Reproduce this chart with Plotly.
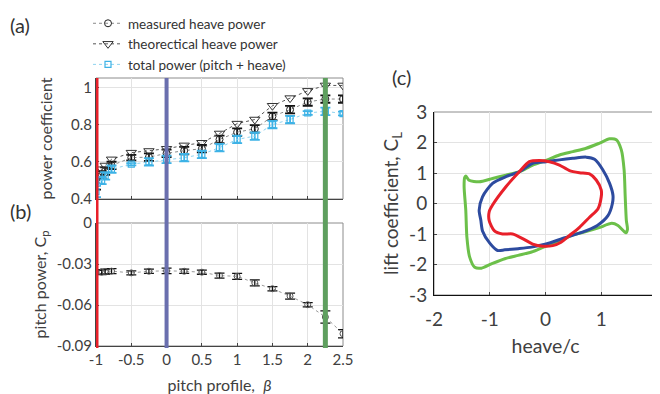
import plotly.graph_objects as go

# ---------------- data ----------------
beta = [-1, -0.92, -0.87, -0.78, -0.5, -0.25, 0, 0.25, 0.5, 0.75, 1.0, 1.25, 1.5, 1.75, 2.0, 2.25, 2.5]
measured = [0.48, 0.53, 0.55, 0.58, 0.622, 0.625, 0.645, 0.66, 0.67, 0.72, 0.759, 0.777, 0.844, 0.88, 0.921, 0.937, 0.937]
measured_err = [0.03, 0.02, 0.02, 0.02, 0.015, 0.02, 0.02, 0.02, 0.02, 0.02, 0.02, 0.02, 0.02, 0.02, 0.02, 0.02, 0.02]
theory = [0.50, 0.56, 0.58, 0.613, 0.649, 0.658, 0.670, 0.688, 0.702, 0.752, 0.805, 0.827, 0.901, 0.942, 0.981, 1.01, 1.01]
total = [0.44, 0.50, 0.524, 0.56, 0.587, 0.60, 0.613, 0.622, 0.64, 0.676, 0.72, 0.738, 0.80, 0.827, 0.862, 0.871, 0.859]
total_err = [0.03, 0.02, 0.02, 0.02, 0.006, 0.02, 0.02, 0.02, 0.02, 0.02, 0.02, 0.02, 0.02, 0.02, 0.01, 0.02, 0.01]
pitch = [-0.0361, -0.036, -0.0355, -0.0352, -0.0365, -0.0353, -0.035, -0.0353, -0.036, -0.0385, -0.039,
         -0.0438, -0.0481, -0.0535, -0.0598, -0.0688, -0.081]
pitch_err = [0.0015, 0.0018, 0.0018, 0.0018, 0.0015, 0.0015, 0.002, 0.0015, 0.0015, 0.0018, 0.0022,
             0.0022, 0.0015, 0.0022, 0.0015, 0.0045, 0.003]
beta_marks = [-1, 0, 2.25]
mark_colors = ["#e8202a", "#6a6fae", "#5f9f5f"]
mark_widths = [5, 4, 5]

red_h = [-0.11, 0.07, 0.25, 0.43, 0.61, 0.79, 0.91, 1.00, 1.00, 0.94, 0.79, 0.61, 0.43, 0.28, 0.13, -0.05,
         -0.23, -0.41, -0.59, -0.77, -0.92, -1.01, -1.01, -0.95, -0.71, -0.47, -0.29, -0.11]
red_cl = [1.41, 1.37, 1.26, 1.08, 1.01, 0.97, 0.77, 0.44, 0.22, -0.18, -0.45, -0.78, -1.05, -1.27, -1.38, -1.40,
          -1.33, -1.15, -1.00, -1.00, -0.89, -0.56, -0.27, -0.05, 0.55, 1.04, 1.37, 1.41]
blue_h = [0.01, 0.25, 0.49, 0.73, 0.88, 1.03, 1.15, 1.21, 1.20, 1.12, 0.93, 0.65, 0.35, 0.01, -0.25, -0.49,
          -0.73, -0.86, -1.00, -1.13, -1.16, -1.19, -1.13, -0.95, -0.71, -0.47, -0.23, 0.01]
blue_cl = [1.37, 1.43, 1.48, 1.52, 1.45, 1.10, 0.66, 0.27, 0.0, -0.40, -0.72, -0.95, -1.12, -1.33, -1.43, -1.48,
           -1.52, -1.54, -1.30, -0.90, -0.55, -0.22, 0.22, 0.66, 0.88, 1.04, 1.32, 1.37]
green_h = [-1.43, -1.37, -1.19, -0.95, -0.71, -0.47, -0.23, 0.01, 0.25, 0.49, 0.73, 0.97, 1.15, 1.27, 1.36,
           1.41, 1.43, 1.45, 1.47, 1.44, 1.30, 1.19, 0.95, 0.71, 0.47, 0.23, -0.01, -0.25, -0.49, -0.73,
           -0.97, -1.15, -1.27, -1.36, -1.41, -1.43, -1.46, -1.45, -1.43]
green_cl = [0.90, 0.76, 0.71, 0.82, 0.93, 1.04, 1.26, 1.41, 1.59, 1.70, 1.81, 1.98, 2.12, 2.09, 1.76,
            1.10, 0.22, -0.55, -0.85, -0.96, -0.72, -0.65, -0.80, -0.93, -1.04, -1.26, -1.41, -1.59, -1.70, -1.81,
            -1.98, -2.12, -2.09, -1.76, -1.10, -0.22, 0.55, 0.85, 0.90]

FONT = "Lato"
TXT = "#404040"

# the page body has an 8px default margin, so the figure is 652x386 placed at (8, 8)
W, H, OFF = 652, 386, 8


def px(x):
    return (x - OFF) / W


def py(y):
    return 1 - (y - OFF) / H


fig = go.Figure()

# panel (a)
fig.add_trace(go.Scatter(
    x=beta, y=measured, name="measured heave power", mode="lines+markers",
    line=dict(color="#8a8a8a", width=1, dash="dot"),
    marker=dict(symbol="circle-open", size=7, color="#222", line=dict(width=1)),
    error_y=dict(type="data", array=measured_err, color="#111", thickness=1.8, width=5),
    xaxis="x", yaxis="y"))
fig.add_trace(go.Scatter(
    x=beta, y=theory, name="theorectical heave power", mode="lines+markers",
    line=dict(color="#555", width=1, dash="dot"),
    marker=dict(symbol="triangle-down-open", size=9, color="#333", line=dict(width=1)),
    xaxis="x", yaxis="y"))
fig.add_trace(go.Scatter(
    x=beta, y=total, name="total power (pitch + heave)", mode="lines+markers",
    line=dict(color="#8ed3f0", width=1, dash="dot"),
    marker=dict(symbol="square-open", size=6, color="#3db2e6", line=dict(width=1.2)),
    error_y=dict(type="data", array=total_err, color="#3db2e6", thickness=1.8, width=5),
    xaxis="x", yaxis="y"))

# panel (b)
fig.add_trace(go.Scatter(
    x=beta, y=pitch, showlegend=False, mode="lines+markers",
    line=dict(color="#9a9a9a", width=1, dash="dot"),
    marker=dict(symbol="circle-open", size=6, color="#555", line=dict(width=1)),
    error_y=dict(type="data", array=pitch_err, color="#111", thickness=1.3, width=5),
    xaxis="x2", yaxis="y2"))

# panel (c)
for hx, cy, col in [(green_h, green_cl, "#6cc04a"), (blue_h, blue_cl, "#2d4b9f"), (red_h, red_cl, "#e8202a")]:
    fig.add_trace(go.Scatter(x=hx, y=cy, mode="lines", showlegend=False,
                             line=dict(color=col, width=3, shape="spline", smoothing=0.7),
                             xaxis="x3", yaxis="y3"))

shapes = []
for b, c, w in zip(beta_marks, mark_colors, mark_widths):
    shapes.append(dict(type="line", xref="x", yref="paper", x0=b, x1=b, y0=py(348), y1=py(78),
                       line=dict(color=c, width=w), layer="above"))
for xr, yr in [("x domain", "y domain"), ("x2 domain", "y2 domain"), ("x3 domain", "y3 domain")]:
    shapes.append(dict(type="rect", xref=xr, yref=yr, x0=0, x1=1, y0=0, y1=1,
                       line=dict(color="#8c8c8c", width=1), layer="below"))

axcommon = dict(showgrid=True, gridcolor="#e3e3e3", gridwidth=1, zeroline=False,
                ticks="inside", ticklen=3, tickcolor="#444", automargin=False,
                tickfont=dict(family=FONT, size=15, color=TXT), showline=True, linecolor="#444", linewidth=1)

fig.update_layout(
    width=W, height=H, autosize=False,
    margin=dict(l=0, r=0, t=0, b=0, pad=0),
    paper_bgcolor="white", plot_bgcolor="white",
    font=dict(family=FONT, color=TXT),
    showlegend=True,
    legend=dict(x=px(88), y=1.0, xanchor="left", yanchor="top", bgcolor="rgba(0,0,0,0)",
                font=dict(family=FONT, size=13.5, color="#333"), tracegroupgap=0, itemwidth=30),
    xaxis=dict(axcommon, domain=[px(96), px(343)], range=[-1, 2.5], dtick=0.5, showticklabels=False,
               anchor="y"),
    yaxis=dict(axcommon, domain=[py(199), py(78)], range=[0.4, 1.05], tickvals=[0.4, 0.6, 0.8, 1],
               ticktext=["0.4", "0.6", "0.8", "1"], anchor="x",
               title=dict(text="power coefficient", font=dict(family=FONT, size=16, color=TXT), standoff=14)),
    xaxis2=dict(axcommon, domain=[px(96), px(343)], range=[-1, 2.5], dtick=0.5, anchor="y2",
                tickvals=[-1, -0.5, 0, 0.5, 1, 1.5, 2, 2.5],
                ticktext=["-1", "-0.5", "0", "0.5", "1", "1.5", "2", "2.5"],
                title=dict(text="pitch profile,  <i>β</i>", font=dict(family=FONT, size=16, color=TXT), standoff=12)),
    yaxis2=dict(axcommon, domain=[py(346), py(223)], range=[-0.09, 0], anchor="x2",
                tickvals=[-0.09, -0.06, -0.03, 0], ticktext=["-0.09", "-0.06", "-0.03", "0"],
                title=dict(text="pitch power, C<sub>p</sub>", font=dict(family=FONT, size=16, color=TXT), standoff=6)),
    xaxis3=dict(axcommon, domain=[px(434), px(657)], range=[-2, 2], dtick=1, anchor="y3",
                linecolor="#111", tickfont=dict(family=FONT, size=19, color=TXT), ticklabelstandoff=7,
                tickvals=[-2, -1, 0, 1, 2], ticktext=["-2", "-1", "0", "1", "2"],
                title=dict(text="heave/c", font=dict(family=FONT, size=19.5, color=TXT), standoff=10)),
    yaxis3=dict(axcommon, domain=[py(295), py(112)], range=[-3, 3], dtick=1, anchor="x3",
                linecolor="#111", tickfont=dict(family=FONT, size=19, color=TXT), ticklabelstandoff=2,
                tickvals=[-3, -2, -1, 0, 1, 2, 3], ticktext=["-3", "-2", "-1", "0", "1", "2", "3"],
                title=dict(text="lift coefficient, C<sub>L</sub>", font=dict(family=FONT, size=19, color=TXT), standoff=5)),
    shapes=shapes,
    annotations=[
        dict(text="(a)", x=px(8), y=py(25), xref="paper", yref="paper", showarrow=False,
             xanchor="left", yanchor="middle", font=dict(family=FONT, size=20, color="#333")),
        dict(text="(b)", x=px(8), y=py(211), xref="paper", yref="paper", showarrow=False,
             xanchor="left", yanchor="middle", font=dict(family=FONT, size=20, color="#333")),
        dict(text="(c)", x=px(390), y=py(77), xref="paper", yref="paper", showarrow=False,
             xanchor="left", yanchor="middle", font=dict(family=FONT, size=20, color="#333")),
    ],
)

fig.write_html("out.html")
